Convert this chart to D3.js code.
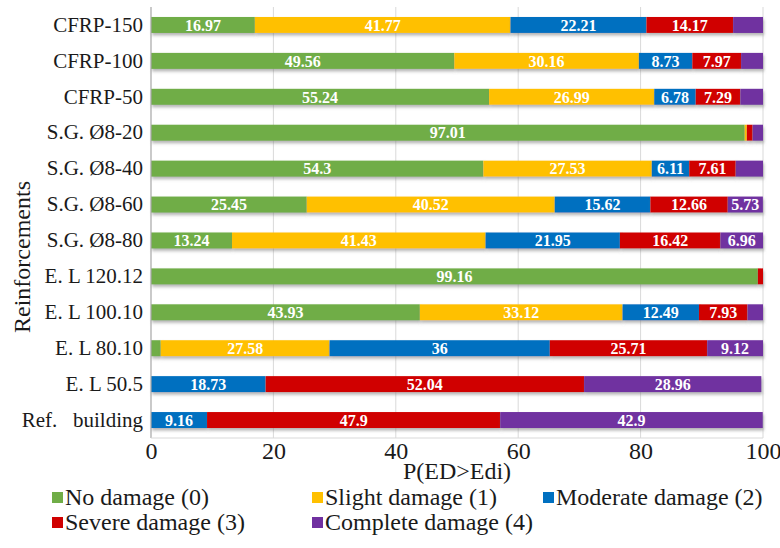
<!DOCTYPE html>
<html>
<head>
<meta charset="utf-8">
<script src="https://cdn.jsdelivr.net/npm/d3@7"></script>
<style>
  html, body { margin: 0; padding: 0; background: #fff; }
  svg { display: block; }
  svg text { font-family: "Liberation Serif", "Times New Roman", Times, "DejaVu Serif", serif; }
</style>
</head>
<body>
<svg id="chart" width="780" height="548"></svg>
<script>
const categories = ["CFRP-150","CFRP-100","CFRP-50","S.G. Ø8-20","S.G. Ø8-40","S.G. Ø8-60","S.G. Ø8-80","E. L 120.12","E. L 100.10","E. L 80.10","E. L 50.5","Ref.   building"];
const seriesNames = ["No damage (0)","Slight damage (1)","Moderate damage (2)","Severe damage (3)","Complete damage (4)"];
const noDamage       = [16.97, 49.56, 55.24, 97.01, 54.3, 25.45, 13.24, 99.16, 43.93, 1.59, 0, 0];
const slightDamage   = [41.77, 30.16, 26.99, 0.35, 27.53, 40.52, 41.43, 0, 33.12, 27.58, 0, 0];
const moderateDamage = [22.21, 8.73, 6.78, 0, 6.11, 15.62, 21.95, 0, 12.49, 36, 18.73, 9.16];
const severeDamage   = [14.17, 7.97, 7.29, 0.95, 7.61, 12.66, 16.42, 0.84, 7.93, 25.71, 52.04, 47.9];
const completeDamage = [4.88, 3.58, 3.70, 1.69, 4.45, 5.73, 6.96, 0, 2.53, 9.12, 28.96, 42.9];
// which segments show a value label (small unlabeled slivers are false)
const showLabel = [
  [true,true,true,true,true,true,true,true,true,false,false,false],
  [true,true,true,false,true,true,true,false,true,true,false,false],
  [true,true,true,false,true,true,true,false,true,true,true,true],
  [true,true,true,false,true,true,true,false,true,true,true,true],
  [false,false,false,false,false,true,true,false,false,true,true,true]
];
const xTicks = [0, 20, 40, 60, 80, 100];
const colors = ["#70AD47", "#FFC000", "#0070C0", "#D00000", "#7030A0"];

const seriesValues = [noDamage, slightDamage, moderateDamage, severeDamage, completeDamage];
const table = categories.map((c, i) => {
  const row = { cat: c };
  seriesNames.forEach((s, j) => row[s] = seriesValues[j][i]);
  return row;
});

const FONT = "'Liberation Serif', 'Times New Roman', Times, 'DejaVu Serif', serif";
const svg = d3.select("#chart");
const pLeft = 151, pRight = 763, pTop = 7, pBottom = 438;

const x = d3.scaleLinear().domain([0, 100]).range([pLeft, pRight]);
const y = d3.scaleBand().domain(categories).range([pTop, pBottom]).paddingInner(0.555).paddingOuter(0.2775);

const defs = svg.append("defs");
const f = defs.append("filter").attr("id", "shadow").attr("x", "-5%").attr("y", "-50%").attr("width", "110%").attr("height", "220%");
f.append("feDropShadow").attr("dx", 1).attr("dy", 2.5).attr("stdDeviation", 1.4).attr("flood-color", "#777").attr("flood-opacity", 0.55);

// gridlines
svg.append("g").selectAll("line").data(xTicks.filter(t => t > 0)).join("line")
  .attr("x1", d => x(d)).attr("x2", d => x(d))
  .attr("y1", pTop).attr("y2", pBottom)
  .attr("stroke", "#d9d9d9").attr("stroke-width", 1);

const stack = d3.stack().keys(seriesNames)(table);

const gBars = svg.append("g");
stack.forEach((layer, j) => {
  gBars.append("g").attr("fill", colors[j]).attr("filter", "url(#shadow)")
    .selectAll("rect").data(layer).join("rect")
    .attr("x", d => x(d[0]))
    .attr("y", d => y(d.data.cat))
    .attr("width", d => Math.max(0, x(d[1]) - x(d[0])))
    .attr("height", y.bandwidth());
});

const gLab = svg.append("g").attr("font-family", FONT);
stack.forEach((layer, j) => {
  gLab.append("g").selectAll("text")
    .data(layer.filter((d, i) => showLabel[j][i]))
    .join("text")
    .attr("x", d => (x(d[0]) + x(d[1])) / 2)
    .attr("y", d => y(d.data.cat) + y.bandwidth() / 2)
    .attr("dy", "0.36em")
    .attr("text-anchor", "middle")
    .attr("fill", "#fff")
    .attr("font-weight", "bold")
    .attr("font-size", 16)
    .text(d => seriesValues[j][categories.indexOf(d.data.cat)]);
});

// axes lines
svg.append("line").attr("x1", pLeft).attr("x2", pLeft).attr("y1", pTop).attr("y2", pBottom)
  .attr("stroke", "#a6a6a6").attr("stroke-width", 1.2);
svg.append("line").attr("x1", pLeft).attr("x2", pRight).attr("y1", pBottom).attr("y2", pBottom)
  .attr("stroke", "#d9d9d9").attr("stroke-width", 1);

// category labels
const yAxis = d3.axisLeft(y).tickSize(0).tickPadding(8);
const gy = svg.append("g").attr("transform", `translate(${pLeft},0)`).call(yAxis).attr("font-family", FONT);
gy.select(".domain").remove();
gy.selectAll("text").attr("font-size", 21).attr("fill", "#1a1a1a").style("white-space", "pre");

// x tick labels
const xAxis = d3.axisBottom(x).tickValues(xTicks).tickSize(0).tickPadding(4).tickFormat(d3.format("d"));
const gx = svg.append("g").attr("transform", `translate(0,${pBottom})`).call(xAxis).attr("font-family", FONT);
gx.select(".domain").remove();
gx.selectAll("text").attr("font-size", 24).attr("fill", "#1a1a1a");

// axis titles
svg.append("text").attr("x", (pLeft + pRight) / 2).attr("y", 471).attr("dy", "0.35em").attr("font-family", FONT)
  .attr("text-anchor", "middle").attr("font-size", 24).attr("fill", "#1a1a1a").text("P(ED>Edi)");
svg.append("text").attr("transform", `translate(22,${257}) rotate(-90)`).attr("dy", "0.35em").attr("font-family", FONT)
  .attr("text-anchor", "middle").attr("font-size", 24).attr("fill", "#1a1a1a").text("Reinforcements");

// legend
const legendPos = [[52, 497], [312, 497], [543, 497], [52, 522], [312, 522]];
const lg = svg.append("g").attr("font-family", FONT);
seriesNames.forEach((s, j) => {
  const [lx, ly] = legendPos[j];
  lg.append("rect").attr("x", lx).attr("y", ly - 5).attr("width", 11).attr("height", 11).attr("fill", colors[j]);
  lg.append("text").attr("x", lx + 13).attr("y", ly).attr("dy", "0.35em")
    .attr("font-size", 24).attr("fill", "#1a1a1a").text(s);
});
</script>
</body>
</html>
